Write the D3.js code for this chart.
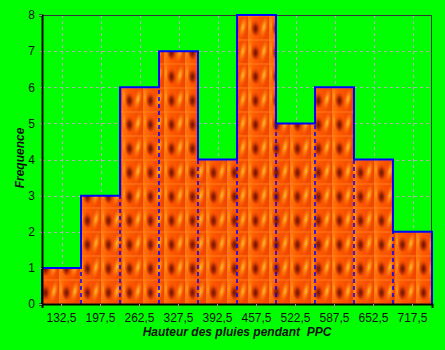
<!DOCTYPE html>
<meta charset="utf-8">
<style>
  body { margin: 0; background: #00ff00; }
  text { font-family: "Liberation Sans", Arial, sans-serif; }
  .tick text { font-size: 12px; fill: #111; }
  .title { font-size: 12px; font-weight: bold; font-style: italic; fill: #111; white-space: pre; }
</style>
<body>
<script src="https://cdnjs.cloudflare.com/ajax/libs/d3/7.8.5/d3.min.js"></script>
<script>
  // class centres and frequencies
  var classes = ["132,5", "197,5", "262,5", "327,5", "392,5", "457,5", "522,5", "587,5", "652,5", "717,5"];
  var freq = [1, 3, 6, 7, 4, 8, 5, 6, 4, 2];
  var yTicks = [0, 1, 2, 3, 4, 5, 6, 7, 8];

  var W = 445, H = 350;
  var margin = {top: 15, right: 13, bottom: 46, left: 42};

  var svg = d3.select("body").append("svg")
    .attr("width", W)
    .attr("height", H);

  svg.append("rect").attr("width", W).attr("height", H).attr("fill", "#00ff00");

  var x = d3.scaleBand().domain(classes).range([margin.left, W - margin.right]).padding(0);
  var y = d3.scaleLinear().domain([0, 8]).range([H - margin.bottom, margin.top]);

  // flame texture as a pattern
  var defs = svg.append("defs");
  var dark = defs.append("radialGradient").attr("id", "dark")
    .attr("cx", "45%").attr("cy", "60%").attr("r", "55%");
  dark.append("stop").attr("offset", "0%").attr("stop-color", "#6e1400");
  dark.append("stop").attr("offset", "35%").attr("stop-color", "#a82800");
  dark.append("stop").attr("offset", "100%").attr("stop-color", "#ff5000").attr("stop-opacity", 0);
  var glow = defs.append("radialGradient").attr("id", "glow");
  glow.append("stop").attr("offset", "0%").attr("stop-color", "#ffc030");
  glow.append("stop").attr("offset", "100%").attr("stop-color", "#ff8000").attr("stop-opacity", 0);
  var shade = defs.append("linearGradient").attr("id", "shade");
  shade.append("stop").attr("offset", "0%").attr("stop-color", "#ff7a10");
  shade.append("stop").attr("offset", "30%").attr("stop-color", "#ff5a00");
  shade.append("stop").attr("offset", "100%").attr("stop-color", "#f04400");

  var pat = defs.append("pattern").attr("id", "flame")
    .attr("patternUnits", "userSpaceOnUse")
    .attr("x", margin.left - 4).attr("y", margin.top)
    .attr("width", 21).attr("height", 24);
  pat.append("rect").attr("width", 21).attr("height", 24).attr("fill", "url(#shade)");
  pat.append("ellipse").attr("cx", 16).attr("cy", 12).attr("rx", 4).attr("ry", 12)
    .attr("fill", "url(#glow)").attr("transform", "rotate(12,16,12)");
  pat.append("ellipse").attr("cx", 2).attr("cy", 10).attr("rx", 2).attr("ry", 10)
    .attr("fill", "url(#glow)").attr("opacity", 0.7);
  pat.append("ellipse").attr("cx", 8).attr("cy", 12).attr("rx", 5).attr("ry", 9).attr("fill", "url(#dark)");
  pat.append("rect").attr("width", 21).attr("height", 2).attr("fill", "#ff8a20").attr("opacity", 0.4);

  // grid
  var grid = svg.append("g").attr("stroke", "#b0b0b0").attr("stroke-dasharray", "3,3").attr("stroke-width", 1);
  grid.selectAll(".hg").data(yTicks.slice(1)).enter().append("line")
    .attr("x1", margin.left).attr("x2", W - margin.right)
    .attr("y1", function (d) { return Math.round(y(d)) + 0.5; })
    .attr("y2", function (d) { return Math.round(y(d)) + 0.5; });
  grid.selectAll(".vg").data(classes).enter().append("line")
    .attr("x1", function (d) { return Math.round(x(d) + x.bandwidth() / 2) + 0.5; })
    .attr("x2", function (d) { return Math.round(x(d) + x.bandwidth() / 2) + 0.5; })
    .attr("y1", margin.top).attr("y2", H - margin.bottom);

  // frame top/right
  svg.append("path")
    .attr("d", "M" + margin.left + "," + (margin.top + 0.5) + "H" + (W - margin.right - 0.5) + "V" + (H - margin.bottom))
    .attr("fill", "none").attr("stroke", "#333").attr("stroke-width", 1);

  // bars
  svg.selectAll(".bar").data(freq).enter().append("rect")
    .attr("x", function (d, i) { return x(classes[i]); })
    .attr("width", x.bandwidth())
    .attr("y", function (d) { return y(d); })
    .attr("height", function (d) { return y(0) - y(d); })
    .attr("fill", "url(#flame)");

  // dashed separators between neighbouring bars
  svg.selectAll(".sep").data(freq.slice(1)).enter().append("line")
    .attr("x1", function (d, i) { return x(classes[i + 1]); })
    .attr("x2", function (d, i) { return x(classes[i + 1]); })
    .attr("y1", y(0))
    .attr("y2", function (d, i) { return y(Math.min(d, freq[i])); })
    .attr("stroke", "#0000ff").attr("stroke-width", 1.5).attr("stroke-dasharray", "4,3");

  // solid outline of the histogram
  var pts = [[x(classes[0]), y(0)]];
  freq.forEach(function (f, i) {
    pts.push([x(classes[i]), y(f)]);
    pts.push([x(classes[i]) + x.bandwidth(), y(f)]);
  });
  pts.push([x(classes[classes.length - 1]) + x.bandwidth(), y(0)]);
  svg.append("path").attr("d", d3.line()(pts))
    .attr("fill", "none").attr("stroke", "#0000ff").attr("stroke-width", 2);

  // axes
  var xAxis = svg.append("g").attr("transform", "translate(0," + y(0) + ")")
    .call(d3.axisBottom(x).tickSize(4).tickPadding(5));
  xAxis.select(".domain").attr("stroke", "#000").attr("stroke-width", 2);
  xAxis.selectAll(".tick line").attr("stroke", "#999");

  var yAxis = svg.append("g").attr("transform", "translate(" + margin.left + ",0)")
    .call(d3.axisLeft(y).tickValues(yTicks).tickFormat(d3.format("d")).tickSize(3).tickPadding(4));
  yAxis.select(".domain").attr("stroke", "#000").attr("stroke-width", 2);
  yAxis.selectAll(".tick line").attr("stroke", "#999");

  svg.append("text").attr("class", "title")
    .attr("x", (margin.left + W - margin.right) / 2).attr("y", 336)
    .attr("text-anchor", "middle")
    .text("Hauteur des pluies pendant  PPC");

  svg.append("text").attr("class", "title")
    .attr("transform", "translate(24,158) rotate(-90)")
    .attr("text-anchor", "middle")
    .text("Frequence");
</script>
</body>
